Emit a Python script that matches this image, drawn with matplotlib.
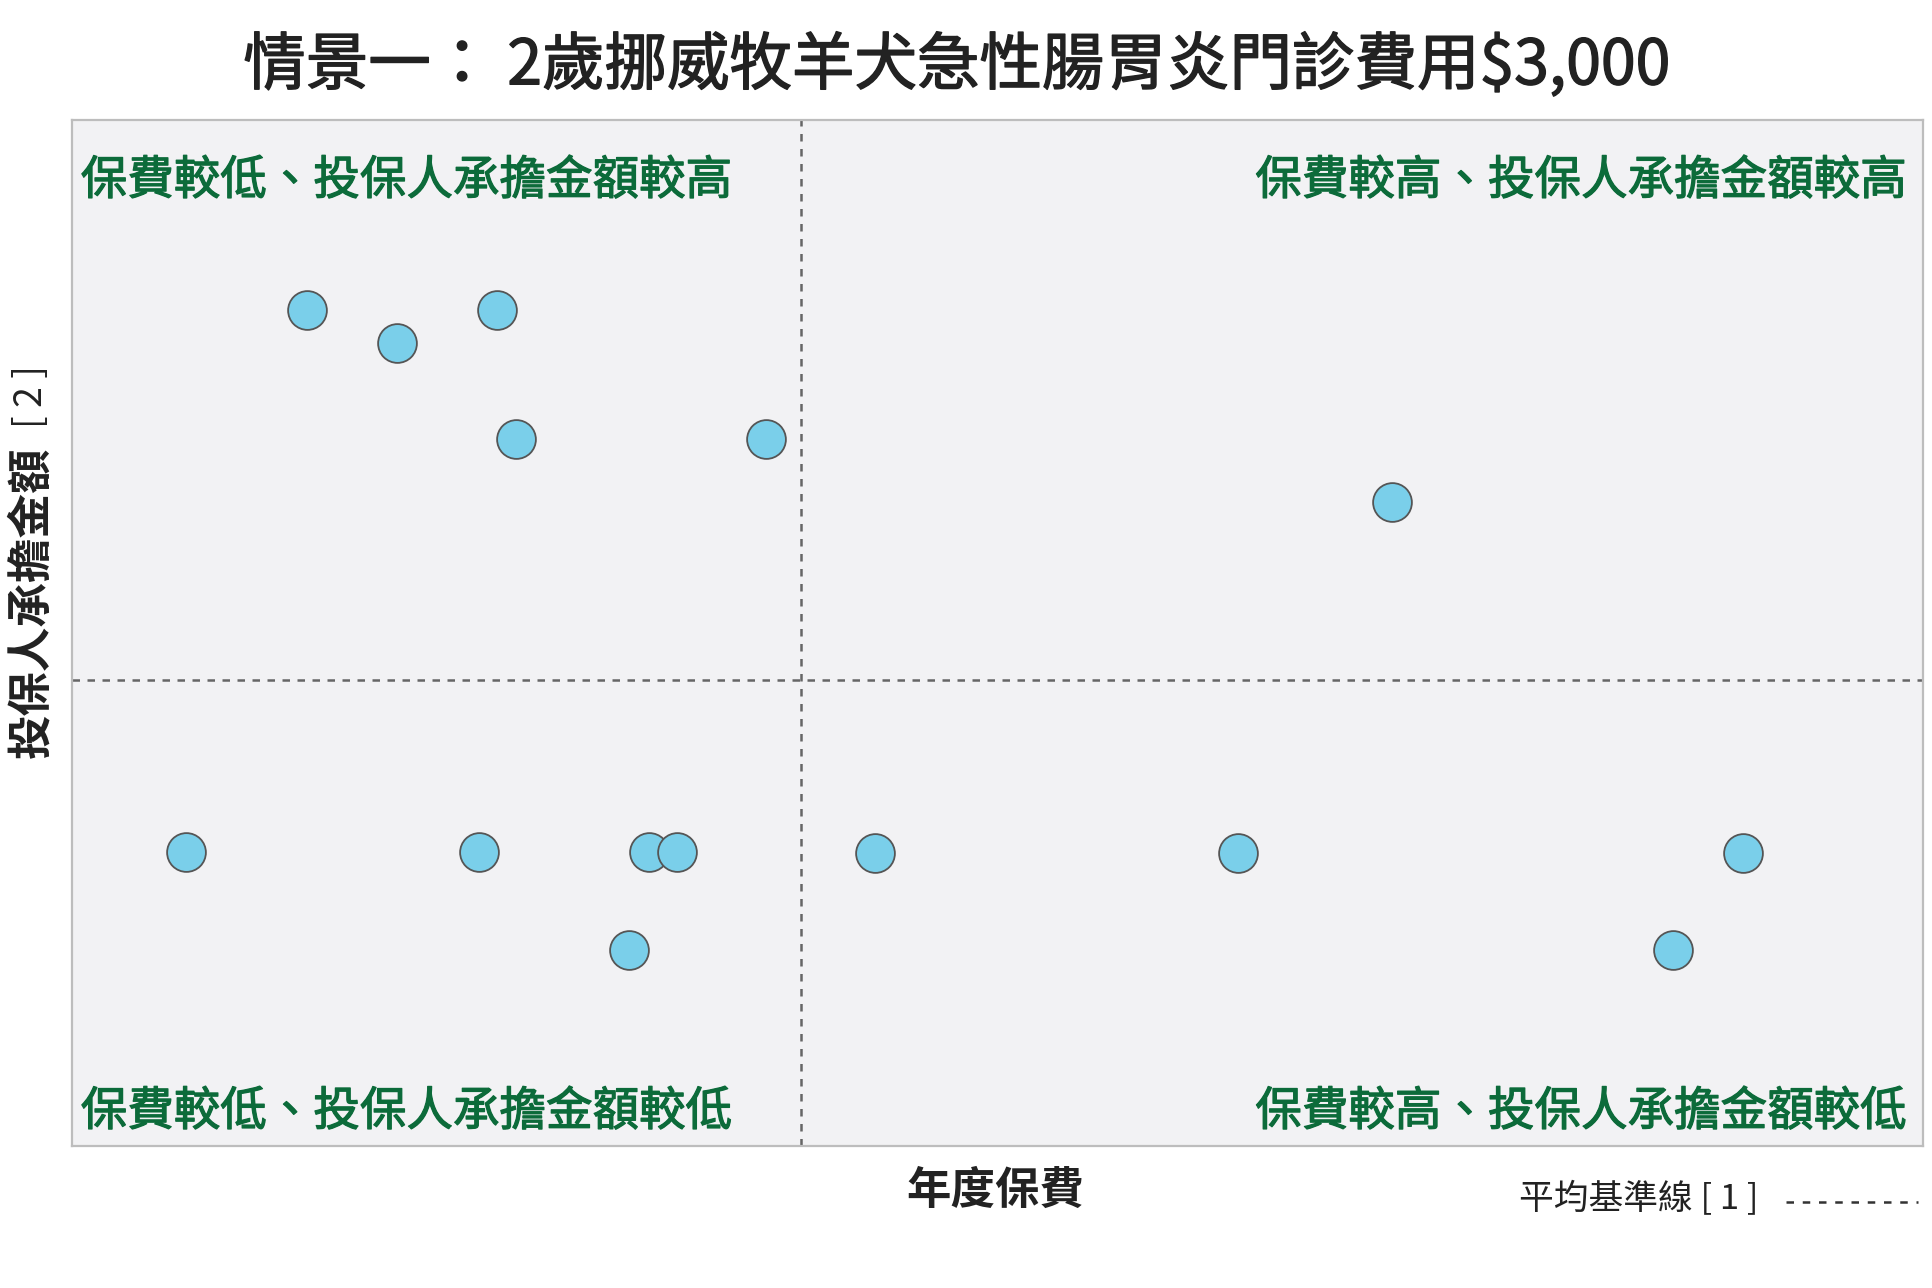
import matplotlib
matplotlib.use("Agg")
import matplotlib.pyplot as plt
from matplotlib.lines import Line2D
import matplotlib.patheffects as pe

plt.rcParams['font.family'] = ['Noto Sans CJK TC', 'DejaVu Sans']

# Data (normalised positions, 0-100 scale)
premium = [12.7, 17.6, 23.0, 24.0, 37.5, 71.3, 6.2, 22.0, 31.2, 32.7, 30.1, 43.4, 63.0, 90.3, 86.5]
owner_cost = [81.4, 78.2, 81.4, 68.9, 68.9, 62.7, 28.6, 28.6, 28.6, 28.6, 19.1, 28.5, 28.5, 28.5, 19.1]
avg_premium = 39.4
avg_cost = 45.4

title = "情景一： 2歲挪威牧羊犬急性腸胃炎門診費用$3,000"
xlabel = "年度保費"
ylabel = "投保人承擔金額"
quad_labels = {
    "tl": "保費較低、投保人承擔金額較高",
    "tr": "保費較高、投保人承擔金額較高",
    "bl": "保費較低、投保人承擔金額較低",
    "br": "保費較高、投保人承擔金額較低",
}
legend_label = "平均基準線 [ 1 ]"

W, H = 1932, 1288
fig = plt.figure(figsize=(W / 100, H / 100), dpi=100)
fig.patch.set_facecolor("white")
ax = fig.add_axes([71.5 / W, 1 - 1146 / H, (1923 - 71.5) / W, (1146 - 119.5) / H])
ax.set_facecolor("#F2F2F4")
for s in ax.spines.values():
    s.set_color("#BDBDBD")
    s.set_linewidth(1.6)
ax.set_xlim(0, 100)
ax.set_ylim(0, 100)
ax.set_xticks([])
ax.set_yticks([])

ax.axvline(avg_premium, color="#666666", lw=1.8, ls=(0, (3, 3)), zorder=1)
ax.axhline(avg_cost, color="#666666", lw=1.8, ls=(0, (3, 3)), zorder=1)

ax.scatter(premium, owner_cost, s=780, c="#7ACFEA", edgecolors="#555555",
           linewidths=1.3, zorder=3)

green = "#0C6B3A"
qfs = 33.5
qpe = [pe.withStroke(linewidth=0.9, foreground=green)]
ax.text(0.005, 0.94, quad_labels["tl"], transform=ax.transAxes, ha="left", va="center",
        fontsize=qfs, color=green, path_effects=qpe)
ax.text(0.991, 0.94, quad_labels["tr"], transform=ax.transAxes, ha="right", va="center",
        fontsize=qfs, color=green, path_effects=qpe)
ax.text(0.005, 0.033, quad_labels["bl"], transform=ax.transAxes, ha="left", va="center",
        fontsize=qfs, color=green, path_effects=qpe)
ax.text(0.991, 0.033, quad_labels["br"], transform=ax.transAxes, ha="right", va="center",
        fontsize=qfs, color=green, path_effects=qpe)

fig.text(957 / W, 1 - 66 / H, title, ha="center", va="center", fontsize=45,
         color="#222222", path_effects=[pe.withStroke(linewidth=1.0, foreground="#222222")])

fig.text(995 / W, 1 - 1191 / H, xlabel, ha="center", va="center", fontsize=32,
         color="#222222", fontweight="bold")

fig.text(31 / W, 1 - 602 / H, ylabel, ha="center", va="center", rotation=90,
         fontsize=32, color="#222222", fontweight="bold")
fig.text(31 / W, 1 - 397 / H, "[ 2 ]", ha="center", va="center", rotation=90,
         fontsize=27, color="#222222", fontweight="light")

fig.text(1519 / W, 1 - 1200 / H, legend_label, ha="left", va="center", fontsize=25,
         color="#222222")
fig.add_artist(Line2D([1786 / W, 1918 / W], [1 - 1202 / H, 1 - 1202 / H],
                      transform=fig.transFigure, color="#333333", lw=1.8,
                      ls=(0, (3, 3.5))))

fig.savefig("out.png", dpi=100, facecolor="white")
